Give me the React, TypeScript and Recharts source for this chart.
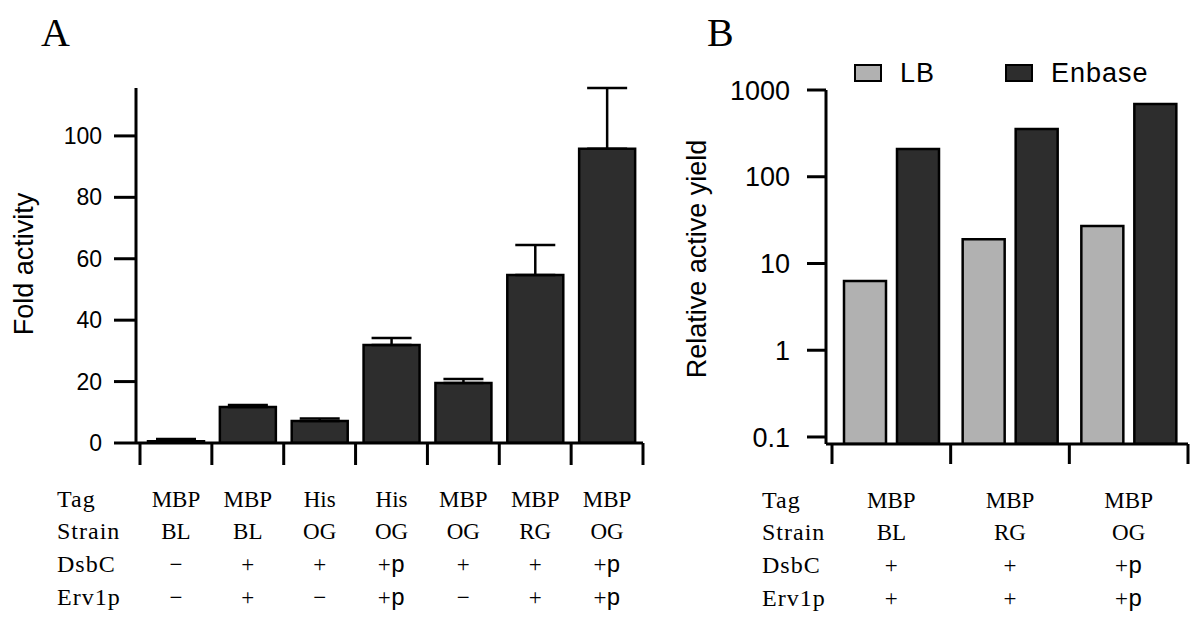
import { BarChart, Bar, XAxis, YAxis, ErrorBar, Legend } from 'recharts'

// Panel A: fold activity per construct
const constructsA = ['1', '2', '3', '4', '5', '6', '7']
const foldActivity = [0.6, 11.7, 7.2, 31.9, 19.5, 54.7, 95.8]
const foldError = [0.7, 0.7, 0.8, 2.3, 1.3, 9.8, 19.8]
const tagA = ['MBP', 'MBP', 'His', 'His', 'MBP', 'MBP', 'MBP']
const strainA = ['BL', 'BL', 'OG', 'OG', 'OG', 'RG', 'OG']
const dsbcA = ['−', '+', '+', '+p', '+', '+', '+p']
const erv1pA = ['−', '+', '−', '+p', '−', '+', '+p']
const ticksA = [0, 20, 40, 60, 80, 100]

// Panel B: relative active yield, LB vs Enbase
const constructsB = ['1', '2', '3']
const seriesB = ['LB', 'Enbase']
const lbYield = [6.3, 19, 27]
const enbaseYield = [209, 355, 690]
const tagB = ['MBP', 'MBP', 'MBP']
const strainB = ['BL', 'RG', 'OG']
const dsbcB = ['+', '+', '+p']
const erv1pB = ['+', '+', '+p']
const ticksB = [0.1, 1, 10, 100, 1000]

const rowNames = ['Tag', 'Strain', 'DsbC', 'Erv1p']

const SANS = '"Liberation Sans", Arial, sans-serif'
const SERIF = '"Liberation Serif", "Times New Roman", serif'
const MONO = '"Courier New", "Liberation Mono", monospace'
const DARK = '#2d2d2d'
const LIGHT = '#b1b1b1'

const dataA = constructsA.map((c, i) => ({
  name: c,
  pos: i + 0.5,
  fold: foldActivity[i],
  err: [0, foldError[i]],
}))

const dataB = constructsB.map((c, i) => ({
  name: c,
  pos: i + 0.5,
  LB: lbYield[i],
  Enbase: enbaseYield[i],
}))

// half-step ticks: integers are group boundaries, halves are group centres
const halfTicks = (n: number) => Array.from({ length: 2 * n + 1 }, (_, i) => i / 2)

// baselines of the table rows, measured down from the x axis line
const rowOffsets = [64, 96, 129, 162]

function CellText({ x, y, value }: { x: number; y: number; value: string }) {
  if (value === '+p') {
    return (
      <text x={x} y={y} textAnchor="middle" fontFamily={SERIF} fontSize={23} fill="#000">
        +<tspan fontFamily={MONO} fontSize={24}>p</tspan>
      </text>
    )
  }
  return (
    <text x={x} y={y} textAnchor="middle" fontFamily={SERIF} fontSize={23} fill="#000">
      {value}
    </text>
  )
}

function makeTableTick(rows: string[][], tickSize: number, labelX: number) {
  return (props: any) => {
    const { x, y, payload } = props
    const v = payload.value as number
    const axisY = y - tickSize
    if (Number.isInteger(v)) {
      return (
        <g>
          <line x1={x} x2={x} y1={axisY} y2={y} stroke="#000" strokeWidth={3} />
          {v === 0 &&
            rowNames.map((r, i) => (
              <text
                key={r}
                x={labelX}
                y={axisY + rowOffsets[i]}
                fontFamily={SERIF}
                fontSize={24}
                letterSpacing={1}
                fill="#000"
              >
                {r}
              </text>
            ))}
        </g>
      )
    }
    const idx = Math.floor(v)
    if (idx < 0 || idx >= rows[0].length) return <g />
    return (
      <g>
        {rows.map((row, i) => (
          <CellText key={i} x={x} y={axisY + rowOffsets[i]} value={row[idx]} />
        ))}
      </g>
    )
  }
}

const colorsB: Record<string, string> = { LB: LIGHT, Enbase: DARK }

const renderLegend = () => (
  <div style={{ display: 'flex', alignItems: 'center', height: 30, fontFamily: SANS, fontSize: 27 }}>
    {seriesB.map((name, i) => (
      <div key={name} style={{ display: 'flex', alignItems: 'center', marginRight: i === 0 ? 70 : 0 }}>
        <span
          style={{
            display: 'inline-block',
            boxSizing: 'border-box',
            width: 28,
            height: 18,
            background: colorsB[name],
            border: '2px solid #000',
            marginRight: 18,
          }}
        />
        <span style={{ letterSpacing: 1 }}>{name}</span>
      </div>
    ))}
  </div>
)

const axisStroke = { stroke: '#000', strokeWidth: 3 }

export default function App() {
  return (
    <div style={{ position: 'absolute', left: 0, top: 0, width: 1200, height: 621, background: '#fff' }}>
      <div style={{ position: 'absolute', left: 0, top: 0 }}>
        <BarChart
          width={660}
          height={621}
          data={dataA}
          margin={{ top: 88, right: 17, bottom: 8, left: 0 }}
          barCategoryGap={8}
        >
          <XAxis xAxisId="cat" dataKey="name" hide height={0} padding={{ left: 4, right: 0 }} />
          <XAxis
            xAxisId="tbl"
            dataKey="pos"
            type="number"
            domain={[0, constructsA.length]}
            allowDataOverflow
            ticks={halfTicks(constructsA.length)}
            interval={0}
            padding={{ left: 4, right: 0 }}
            height={170}
            tickSize={22}
            tickMargin={0}
            tickLine={false}
            axisLine={axisStroke}
            tick={makeTableTick([tagA, strainA, dsbcA, erv1pA], 22, 57)}
          />
          <YAxis
            width={136}
            type="number"
            domain={[0, 115.6]}
            allowDataOverflow
            ticks={ticksA}
            interval={0}
            tickSize={22}
            tickMargin={12}
            axisLine={axisStroke}
            tickLine={axisStroke}
            tick={{ fill: '#000', fontSize: 23, fontFamily: SANS }}
            label={{
              content: () => (
                <text
                  x={24}
                  y={264}
                  transform="rotate(-90 24 264)"
                  textAnchor="middle"
                  dominantBaseline="central"
                  fontFamily={SANS}
                  fontSize={27}
                  fill="#000"
                >
                  Fold activity
                </text>
              ),
            }}
          />
          <Bar xAxisId="cat" dataKey="fold" fill={DARK} stroke="#000" strokeWidth={2.5} isAnimationActive={false}>
            <ErrorBar dataKey="err" width={20} stroke="#000" strokeWidth={2.5} direction="y" />
          </Bar>
        </BarChart>
      </div>

      <div style={{ position: 'absolute', left: 680, top: 0 }}>
        <BarChart
          width={520}
          height={621}
          data={dataB}
          margin={{ top: 90, right: 12, bottom: 7, left: 0 }}
          barCategoryGap={12}
          barGap={11}
        >
          <XAxis xAxisId="cat" dataKey="name" hide height={0} padding={{ left: 6, right: 0 }} />
          <XAxis
            xAxisId="tbl"
            dataKey="pos"
            type="number"
            domain={[0, constructsB.length]}
            allowDataOverflow
            ticks={halfTicks(constructsB.length)}
            interval={0}
            padding={{ left: 6, right: 0 }}
            height={170}
            tickSize={20}
            tickMargin={0}
            tickLine={false}
            axisLine={axisStroke}
            tick={makeTableTick([tagB, strainB, dsbcB, erv1pB], 20, 82)}
          />
          <YAxis
            width={146}
            type="number"
            scale="log"
            domain={[0.083, 1000]}
            allowDataOverflow
            ticks={ticksB}
            interval={0}
            tickSize={19}
            tickMargin={17}
            axisLine={axisStroke}
            tickLine={axisStroke}
            tickFormatter={(v: number) => String(v)}
            tick={{ fill: '#000', fontSize: 27, fontFamily: SANS }}
            label={{
              content: () => (
                <text
                  x={17}
                  y={259}
                  transform="rotate(-90 17 259)"
                  textAnchor="middle"
                  dominantBaseline="central"
                  fontFamily={SANS}
                  fontSize={27}
                  fill="#000"
                >
                  Relative active yield
                </text>
              ),
            }}
          />
          <Legend
            verticalAlign="middle"
            align="center"
            layout="horizontal"
            wrapperStyle={{ top: 58, left: 174, width: 320, height: 30 }}
            content={renderLegend}
          />
          <Bar xAxisId="cat" dataKey="LB" name="LB" fill={LIGHT} stroke="#000" strokeWidth={2.5} isAnimationActive={false} />
          <Bar xAxisId="cat" dataKey="Enbase" name="Enbase" fill={DARK} stroke="#000" strokeWidth={2.5} isAnimationActive={false} />
        </BarChart>
      </div>

      <svg width={1200} height={621} style={{ position: 'absolute', left: 0, top: 0, pointerEvents: 'none' }}>
        <text x={41} y={46} fontFamily={SERIF} fontSize={40} fill="#000">A</text>
        <text x={707} y={46} fontFamily={SERIF} fontSize={40} fill="#000">B</text>
      </svg>
    </div>
  )
}
